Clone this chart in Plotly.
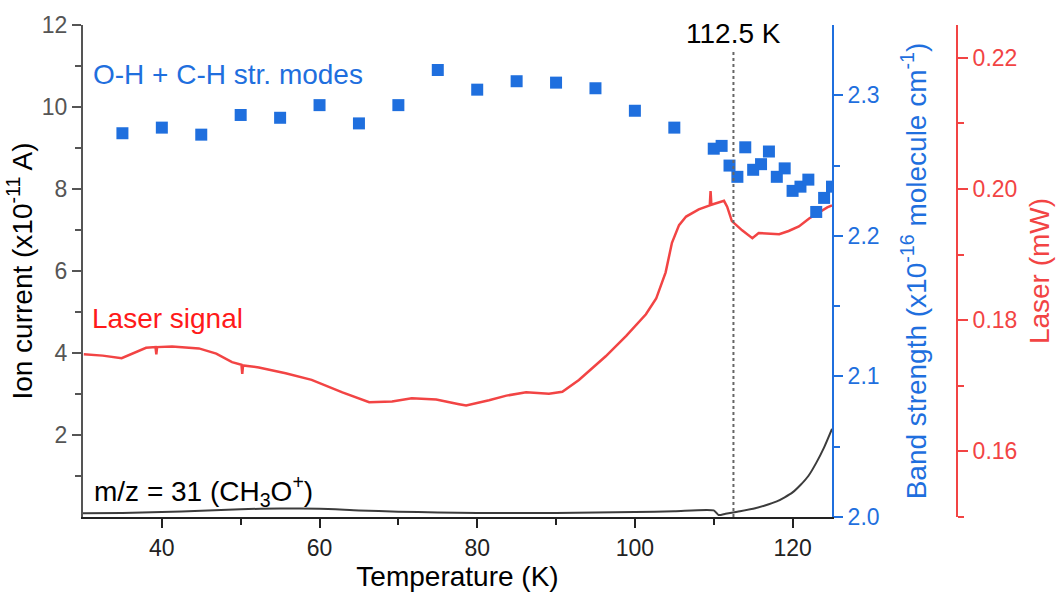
import plotly.graph_objects as go

# ---------------- data ----------------
# Ion current m/z = 31 (x1e-11 A) vs temperature (K)
ion_T = [30, 35, 40, 45, 50, 55, 60, 65, 70, 75, 80, 85, 90, 95, 100, 105, 110,
         110.6, 111.5, 113, 115, 116.5, 118, 119, 120, 121, 122, 123, 124, 125]
ion_I = [0.09, 0.10, 0.12, 0.15, 0.19, 0.21, 0.20, 0.16, 0.13, 0.11, 0.10, 0.10, 0.10, 0.11, 0.12, 0.14, 0.16,
         0.05, 0.08, 0.13, 0.20, 0.28, 0.38, 0.48, 0.60, 0.78, 1.00, 1.32, 1.70, 2.15]

# Laser signal (mW) vs temperature (K)
laser_T = [30.1, 32.5, 34.9, 36.5, 38.0, 39.2, 39.3, 39.4, 41.3, 44.7, 46.9, 48.9, 50.1, 50.2, 50.3,
           52.3, 55.7, 59.0, 62.9, 66.3, 69.2, 71.7, 74.8, 77.7, 78.6, 81.5, 83.7, 86.2,
           89.1, 90.8, 92.9, 96.3, 98.9, 101.4, 102.7, 103.9, 104.7, 105.6, 106.5, 108.1,
           109.5, 109.6, 109.7, 111.3, 111.7, 112.3, 113.6, 114.9, 115.7, 118.3, 119.5,
           120.8, 122.1, 124.4, 125.0]
laser_mW = [0.1748, 0.1746, 0.1742, 0.1750, 0.1758, 0.1759, 0.1748, 0.1759, 0.1760, 0.1757, 0.1749, 0.1736,
            0.1732, 0.1718, 0.1731,
            0.1728, 0.1719, 0.1709, 0.1690, 0.1675, 0.1676, 0.1681, 0.1679, 0.1672, 0.1670, 0.1678,
            0.1685, 0.1690, 0.1688, 0.1691, 0.1709, 0.1745, 0.1776, 0.1809, 0.1833, 0.1873,
            0.1918, 0.1945, 0.1958, 0.1969, 0.1975, 0.1997, 0.1976, 0.1982, 0.1973, 0.1951,
            0.1937, 0.1925, 0.1933, 0.1931, 0.1936, 0.1943, 0.1955, 0.1972, 0.1975]

# Band strength (x1e-16 molecule cm^-1) of O-H + C-H stretching modes
band_T = [35, 40, 45, 50, 55, 60, 65, 70, 75, 80, 85, 90, 95, 100, 105,
          110, 111, 112, 113, 114, 115, 116, 117, 118, 119, 120, 121, 122, 123, 124, 125]
band_S = [2.273, 2.277, 2.272, 2.286, 2.284, 2.293, 2.280, 2.293, 2.318, 2.304, 2.310, 2.309, 2.305,
          2.289, 2.277,
          2.262, 2.264, 2.250, 2.242, 2.263, 2.247, 2.251, 2.260, 2.242, 2.248, 2.232, 2.235, 2.240,
          2.217, 2.227, 2.235]

x_ticks = [40, 60, 80, 100, 120]
ion_ticks = [2, 4, 6, 8, 10, 12]
band_ticks = [2.0, 2.1, 2.2, 2.3]
laser_ticks = [0.16, 0.18, 0.20, 0.22]
T_mark = 112.5

# ---------------- style ----------------
FONT = "Liberation Sans, Arial, sans-serif"
BLUE = "#1F6FDE"
RED = "#F24444"
GREY = "#555555"
BLACK = "#222222"
TICK_SIZE = 23
TEXT_SIZE = 28

fig = go.Figure()

fig.add_trace(go.Scatter(x=ion_T, y=ion_I, mode="lines", yaxis="y",
                         line=dict(color="#3C3C3C", width=2, shape="spline", smoothing=0.6),
                         showlegend=False, hoverinfo="skip"))
fig.add_trace(go.Scatter(x=laser_T, y=laser_mW, mode="lines", yaxis="y2",
                         line=dict(color=RED, width=2.5),
                         showlegend=False))
fig.add_trace(go.Scatter(x=band_T, y=band_S, mode="markers", yaxis="y3",
                         marker=dict(symbol="square", size=12, color=BLUE, line=dict(width=0)),
                         showlegend=False))

xdom_end = (832 - 83) / (1062 - 83 - 105)

fig.update_layout(
    width=1062, height=598,
    margin=dict(l=83, r=105, t=16, b=77),
    paper_bgcolor="white", plot_bgcolor="white",
    font=dict(family=FONT, size=TICK_SIZE, color=BLACK),
    xaxis=dict(domain=[0, xdom_end], range=[30, 125], tickvals=x_ticks,
               ticks="outside", ticklen=9, tickwidth=1.5, tickcolor=BLACK,
               showline=True, linecolor=BLACK, linewidth=2, showgrid=False, zeroline=False,
               tickfont=dict(size=TICK_SIZE, color=BLACK),
               minor=dict(tickvals=[50, 70, 90, 110], ticklen=6, tickwidth=1.5, tickcolor=BLACK, ticks="outside"),
               title=dict(text="Temperature (K)", font=dict(size=TEXT_SIZE, color="black"), standoff=6)),
    yaxis=dict(range=[0, 12], tickvals=ion_ticks, ticks="outside", ticklen=9, tickwidth=1.5,
               tickcolor=GREY, showline=True, linecolor=GREY, linewidth=2, showgrid=False,
               zeroline=False, tickfont=dict(size=TICK_SIZE, color=GREY),
               minor=dict(tickvals=[1, 3, 5, 7, 9, 11], ticklen=6, tickwidth=1.5, tickcolor=GREY, ticks="outside"),
               title=dict(text="Ion current (x10<sup>-11</sup> A)", font=dict(size=TEXT_SIZE, color="black"), standoff=1)),
    yaxis2=dict(overlaying="y", side="right", anchor="free", position=1.0,
                range=[0.15, 0.225], tickvals=laser_ticks, ticktext=["%.2f" % v for v in laser_ticks],
                ticks="outside", ticklen=10, tickwidth=1.5, tickcolor=RED,
                showline=True, linecolor=RED, linewidth=2, showgrid=False, zeroline=False,
                tickfont=dict(size=TICK_SIZE, color=RED),
                minor=dict(tickvals=[0.15, 0.17, 0.19, 0.21], ticklen=6, tickwidth=1.5, tickcolor=RED, ticks="outside"),
                title=dict(text="Laser (mW)", font=dict(size=TEXT_SIZE, color=RED), standoff=12)),
    yaxis3=dict(overlaying="y", side="right", anchor="x",
                range=[2.0, 2.35], tickvals=band_ticks, ticktext=["%.1f" % v for v in band_ticks],
                ticks="outside", ticklen=9, tickwidth=1.5, tickcolor=BLUE,
                showline=True, linecolor=BLUE, linewidth=2, showgrid=False, zeroline=False,
                tickfont=dict(size=TICK_SIZE, color=BLUE),
                minor=dict(tickvals=[2.05, 2.15, 2.25], ticklen=6, tickwidth=1.5, tickcolor=BLUE, ticks="outside"),
                title=dict(text="Band strength (x10<sup>-16</sup> molecule cm<sup>-1</sup>)",
                           font=dict(size=TEXT_SIZE, color=BLUE), standoff=28)),
    showlegend=False,
)

fig.add_shape(type="line", xref="x", yref="y", x0=T_mark, x1=T_mark, y0=0, y1=11.35,
              line=dict(color="#666666", width=2, dash="dot"))

fig.add_annotation(x=T_mark, y=11.8, xref="x", yref="y", text="%.1f K" % T_mark, showarrow=False,
                   xanchor="center", yanchor="middle", font=dict(size=TEXT_SIZE, color="black"))
fig.add_annotation(x=31.0, y=10.8, xref="x", yref="y", text="O-H + C-H str. modes", showarrow=False,
                   xanchor="left", yanchor="middle", font=dict(size=TEXT_SIZE, color=BLUE))
fig.add_annotation(x=30.9, y=4.84, xref="x", yref="y", text="Laser signal", showarrow=False,
                   xanchor="left", yanchor="middle", font=dict(size=TEXT_SIZE, color="#FF1A1A"))
fig.add_annotation(x=31.2, y=0.64, xref="x", yref="y", text="m/z = 31 (CH<sub>3</sub>O<sup>+</sup>)",
                   showarrow=False, xanchor="left", yanchor="middle", font=dict(size=TEXT_SIZE, color="black"))

fig.write_html("out.html")
